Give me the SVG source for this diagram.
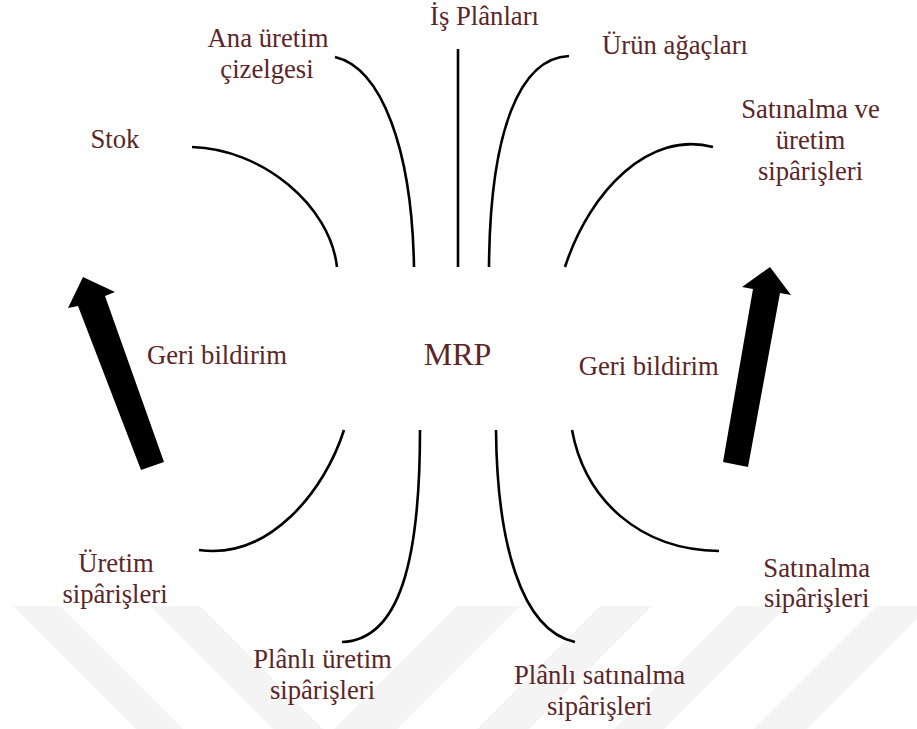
<svg xmlns="http://www.w3.org/2000/svg" width="917" height="729" viewBox="0 0 917 729">
  <style>
    .lbl { font-family: "Times New Roman", Times, "Liberation Serif", "DejaVu Serif", serif; font-size: 26.7px; fill: #5c2626; text-anchor: middle; }
    .core { font-size: 32px; }
    .link { fill: none; stroke: #000; stroke-width: 2.6; stroke-linecap: butt; }
    .fb { fill: #000; }
    .wm { fill: #f4f4f4; }
  </style>

  <rect width="917" height="729" fill="#fff"/>

  <!-- faint background bands -->
  <g id="watermark">
    <polygon class="wm" points="13,606 60,606 183,729 136,729"/>
    <polygon class="wm" points="150,606 200,606 323,729 273,729"/>
    <polygon class="wm" points="457,606 520,606 397,729 334,729"/>
    <polygon class="wm" points="600,606 652,606 529,729 477,729"/>
    <polygon class="wm" points="737,606 787,606 664,729 614,729"/>
    <polygon class="wm" points="877,606 930,606 807,729 754,729"/>
  </g>

  <!-- lines feeding into and out of MRP -->
  <g id="connectors">
    <path class="link" d="M192,147 C262,149 330,205 337,267"/>
    <path class="link" d="M335,57 C382,68 412,150 414,267"/>
    <path class="link" d="M458,49 L458,267"/>
    <path class="link" d="M569,56 C520,58 490,130 489,267"/>
    <path class="link" d="M713,147 C650,130 590,190 565,267"/>
    <path class="link" d="M344,430 C325,490 270,560 199,550"/>
    <path class="link" d="M420,430 C420,560 400,640 342,642"/>
    <path class="link" d="M496,430 C497,540 520,630 575,642"/>
    <path class="link" d="M572,430 C585,500 640,550 719,551"/>
  </g>

  <!-- feedback block arrows -->
  <g id="feedback-arrows">
    <polygon class="fb" points="83,277 115,292 105,296 164,462 141,470 78,306 68,308"/>
    <polygon class="fb" points="770,267 791,295 780,293 748,467 723,462 753,289 742,287"/>
  </g>

  <g id="mrp"><text class="lbl core" x="457.5" y="365">MRP</text></g>

  <g id="is-planlari"><text class="lbl" x="484.5" y="25">İş Plânları</text></g>
  <g id="ana-uretim"><text class="lbl" x="268" y="47">Ana üretim</text><text class="lbl" x="267" y="78">çizelgesi</text></g>
  <g id="stok"><text class="lbl" x="115" y="148">Stok</text></g>
  <g id="urun-agaclari"><text class="lbl" x="675" y="54">Ürün ağaçları</text></g>
  <g id="satinalma-uretim"><text class="lbl" x="810.5" y="118">Satınalma ve</text><text class="lbl" x="810.5" y="149">üretim</text><text class="lbl" x="810.5" y="180">sipârişleri</text></g>

  <g id="geri-bildirim-sol"><text class="lbl" x="217" y="364">Geri bildirim</text></g>
  <g id="geri-bildirim-sag"><text class="lbl" x="648.7" y="375">Geri bildirim</text></g>

  <g id="uretim-siparisleri"><text class="lbl" x="116" y="572">Üretim</text><text class="lbl" x="115" y="603">sipârişleri</text></g>
  <g id="planli-uretim"><text class="lbl" x="322.5" y="668">Plânlı üretim</text><text class="lbl" x="322.5" y="699">sipârişleri</text></g>
  <g id="planli-satinalma"><text class="lbl" x="599.5" y="684">Plânlı satınalma</text><text class="lbl" x="599.5" y="715">sipârişleri</text></g>
  <g id="satinalma-siparisleri"><text class="lbl" x="816.7" y="577">Satınalma</text><text class="lbl" x="816.7" y="607">sipârişleri</text></g>
</svg>
